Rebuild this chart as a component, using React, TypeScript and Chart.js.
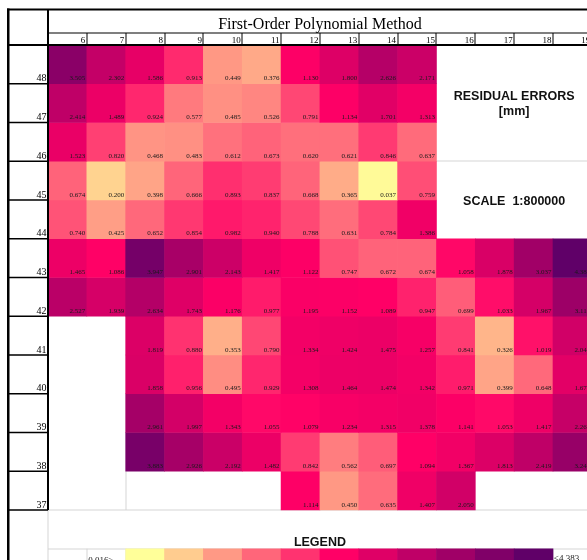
import React, { useEffect, useRef } from 'react';
import { Chart, registerables } from 'chart.js';

Chart.register(...registerables);

// ---------- data ----------
const columns = [6, 7, 8, 9, 10, 11, 12, 13, 14, 15, 16, 17, 18, 19];
const rowLabels = [48, 47, 46, 45, 44, 43, 42, 41, 40, 39, 38, 37];

const row48 = [3.505, 2.302, 1.586, 0.913, 0.449, 0.376, 1.130, 1.800, 2.626, 2.171, null, null, null, null];
const row47 = [2.414, 1.489, 0.924, 0.577, 0.485, 0.526, 0.791, 1.134, 1.701, 1.313, null, null, null, null];
const row46 = [1.523, 0.820, 0.468, 0.483, 0.612, 0.673, 0.620, 0.621, 0.846, 0.637, null, null, null, null];
const row45 = [0.674, 0.200, 0.398, 0.666, 0.893, 0.837, 0.668, 0.365, 0.037, 0.759, null, null, null, null];
const row44 = [0.740, 0.425, 0.652, 0.854, 0.982, 0.940, 0.788, 0.631, 0.784, 1.386, null, null, null, null];
const row43 = [1.465, 1.086, 3.947, 2.901, 2.143, 1.417, 1.122, 0.747, 0.672, 0.674, 1.058, 1.878, 3.037, 4.383];
const row42 = [2.527, 1.939, 2.634, 1.743, 1.176, 0.977, 1.195, 1.152, 1.089, 0.947, 0.699, 1.033, 1.967, 3.110];
const row41 = [null, null, 1.819, 0.880, 0.353, 0.790, 1.334, 1.424, 1.475, 1.257, 0.841, 0.326, 1.019, 2.046];
const row40 = [null, null, 1.858, 0.956, 0.495, 0.929, 1.308, 1.464, 1.474, 1.342, 0.971, 0.399, 0.648, 1.670];
const row39 = [null, null, 2.961, 1.997, 1.343, 1.055, 1.079, 1.234, 1.315, 1.378, 1.141, 1.053, 1.417, 2.262];
const row38 = [null, null, 3.883, 2.926, 2.192, 1.482, 0.842, 0.562, 0.697, 1.094, 1.367, 1.813, 2.419, 3.246];
const row37 = [null, null, null, null, null, null, 1.114, 0.450, 0.635, 1.407, 2.050, null, null, null];

const rowValues = [row48, row47, row46, row45, row44, row43, row42, row41, row40, row39, row38, row37];

const legendColumns = [8, 9, 10, 11, 12, 13, 14, 15, 16, 17, 18];
const legendSteps = [0, 0.1, 0.2, 0.3, 0.4, 0.5, 0.6, 0.7, 0.8, 0.9, 1.0];
const legendMin = 0.016;
const legendMax = 4.383;
const legendMinLabel = '0.016≥';
const legendMaxLabel = '≤4.383';

const titleText = 'First-Order Polynomial Method';
const residualLines = ['RESIDUAL ERRORS', '[mm]'];
const scaleText = 'SCALE  1:800000';
const legendTitle = 'LEGEND';

// ---------- colour scale (3-colour, midpoint = median) ----------
const lowColor = [255, 255, 153];
const midColor = [255, 0, 102];
const highColor = [96, 0, 104];

const allValues: number[] = [];
rowValues.forEach((r) => r.forEach((v) => { if (v != null) allValues.push(v as number); }));
const sortedVals = [...allValues].sort((a, b) => a - b);
const midValue = sortedVals.length % 2
  ? sortedVals[(sortedVals.length - 1) / 2]
  : (sortedVals[sortedVals.length / 2 - 1] + sortedVals[sortedVals.length / 2]) / 2;

function mix(a: number[], b: number[], t: number) {
  const c = a.map((av, i) => Math.round(av + (b[i] - av) * t));
  return `rgb(${c[0]},${c[1]},${c[2]})`;
}
function colorAt(t: number) {
  const tt = Math.max(0, Math.min(1, t));
  return tt <= 0.5 ? mix(lowColor, midColor, tt / 0.5) : mix(midColor, highColor, (tt - 0.5) / 0.5);
}
function colorForValue(v: number) {
  if (v <= midValue) return colorAt(((v - legendMin) / (midValue - legendMin)) * 0.5);
  return colorAt(0.5 + ((v - midValue) / (legendMax - midValue)) * 0.5);
}

// ---------- layout constants ----------
const W = 587;
const H = 560;
const COL_W = 38.846;
const ROW_H = 38.75;
const LEFT = 48;
const TOP = 45;
const LEGEND_ROW = 35;
const SERIF = '"Liberation Serif", "Times New Roman", serif';
const SANS = '"Liberation Sans", Arial, sans-serif';

const sheetPlugin = {
  id: 'sheetPlugin',
  beforeDatasetsDraw(chart: any) {
    const { ctx } = chart;
    const x = chart.scales.x;
    const y = chart.scales.y;
    ctx.save();
    ctx.fillStyle = '#d6d6d6';
    const h = (x0: number, x1: number, yy: number) => ctx.fillRect(x0, Math.round(yy) - 0.5, x1 - x0, 1);
    const v = (xx: number, y0: number, y1: number) => ctx.fillRect(Math.round(xx) - 0.5, y0, 1, y1 - y0);
    h(LEFT, W, y.getPixelForValue(36.5));
    h(LEFT, W, y.getPixelForValue(35.5));
    v(x.getPixelForValue(7.5), y.getPixelForValue(37.5), y.getPixelForValue(36.5));
    v(LEFT, y.getPixelForValue(36.5), H);
    v(x.getPixelForValue(6.5), y.getPixelForValue(35.5), H);
    v(x.getPixelForValue(7.5), y.getPixelForValue(35.5), H);
    v(x.getPixelForValue(18.5), y.getPixelForValue(35.5), H);
    h(x.getPixelForValue(15.5), W, y.getPixelForValue(45.5));
    ctx.restore();
  },
  afterDatasetsDraw(chart: any) {
    const { ctx } = chart;
    const x = chart.scales.x;
    const y = chart.scales.y;
    ctx.save();

    // cell values
    ctx.fillStyle = '#1a1a1a';
    ctx.font = `7px ${SERIF}`;
    ctx.textAlign = 'right';
    ctx.textBaseline = 'alphabetic';
    rowLabels.forEach((r, ri) => {
      columns.forEach((c, ci) => {
        const val = rowValues[ri][ci];
        if (val == null) return;
        ctx.fillText((val as number).toFixed(3), x.getPixelForValue(c + 0.5) - 1.5, y.getPixelForValue(r - 0.5) - 3.5);
      });
    });

    // black frame lines
    ctx.fillStyle = '#000';
    const bottom37 = y.getPixelForValue(36.5);
    ctx.fillRect(7, 8.5, W - 7, 2);
    ctx.fillRect(7, 8.5, 2.5, H - 8.5);
    ctx.fillRect(LEFT - 1, 9, 2, bottom37 - 9);
    ctx.fillRect(7, TOP - 1, W - 7, 2);
    ctx.fillRect(LEFT, 32.5, W - LEFT, 1);
    columns.forEach((c) => {
      const xx = Math.round(x.getPixelForValue(c + 0.5));
      ctx.fillRect(xx - 0.5, 33, 1, TOP - 33);
    });
    rowLabels.forEach((r) => {
      const yy = y.getPixelForValue(r - 0.5);
      ctx.fillRect(8, yy - 0.75, LEFT - 8, 1.5);
    });

    // title
    ctx.fillStyle = '#000';
    ctx.textAlign = 'center';
    ctx.font = `16px ${SERIF}`;
    const cx = (x.getPixelForValue(5.5) + x.getPixelForValue(19.5)) / 2;
    ctx.fillText(titleText, cx, 29);

    // column labels
    ctx.font = `9px ${SERIF}`;
    ctx.textAlign = 'right';
    columns.forEach((c) => {
      ctx.fillText(String(c), x.getPixelForValue(c + 0.5) - 1.5, 42.5);
    });

    // row labels
    ctx.font = `10px ${SERIF}`;
    rowLabels.forEach((r) => {
      ctx.fillText(String(r), LEFT - 1.5, y.getPixelForValue(r - 0.5) - 2.5);
    });

    // side notes
    ctx.font = `bold 12.5px ${SANS}`;
    ctx.textAlign = 'center';
    ctx.fillStyle = '#111';
    const sx = (x.getPixelForValue(15.5) + x.getPixelForValue(19.5)) / 2;
    const resCenter = (y.getPixelForValue(48.5) + y.getPixelForValue(45.5)) / 2;
    ctx.fillText(residualLines[0], sx, resCenter - 3);
    ctx.fillText(residualLines[1], sx, resCenter + 12);
    const scCenter = (y.getPixelForValue(45.5) + y.getPixelForValue(43.5)) / 2;
    ctx.fillText(scaleText, sx, scCenter + 5);
    ctx.fillText(legendTitle, cx, y.getPixelForValue(35.5) - 2.5);

    // legend labels
    ctx.font = `9px ${SERIF}`;
    ctx.textAlign = 'left';
    ctx.fillStyle = '#1a1a1a';
    const legTop = y.getPixelForValue(35.5);
    ctx.fillText(legendMinLabel, x.getPixelForValue(6.5) + 1.5, legTop + 14);
    ctx.fillText(legendMaxLabel, x.getPixelForValue(18.5) + 1, legTop + 12);

    ctx.restore();
  },
};

export default function App() {
  const canvasRef = useRef<HTMLCanvasElement | null>(null);

  useEffect(() => {
    const canvas = canvasRef.current;
    if (!canvas) return;

    const datasets: any[] = rowLabels.map((r, ri) => {
      const pts: any[] = [];
      const colors: string[] = [];
      columns.forEach((c, ci) => {
        const v = rowValues[ri][ci];
        if (v != null) {
          pts.push({ x: c, y: [r - 0.5, r + 0.5] });
          colors.push(colorForValue(v as number));
        }
      });
      return {
        label: String(r),
        data: pts,
        backgroundColor: colors,
        borderWidth: 0,
        grouped: false,
        barPercentage: 1,
        categoryPercentage: 1,
      };
    });
    datasets.push({
      label: 'legend',
      data: legendColumns.map((c) => ({ x: c, y: [LEGEND_ROW - 0.5, LEGEND_ROW + 0.5] })),
      backgroundColor: legendSteps.map((t) => colorAt(t)),
      borderWidth: 0,
      grouped: false,
      barPercentage: 1,
      categoryPercentage: 1,
    });

    const xMax = 5.5 + (W - LEFT) / COL_W;
    const yMin = 48.5 - (H - TOP) / ROW_H;

    const chart = new Chart(canvas, {
      type: 'bar',
      data: { datasets },
      options: {
        animation: false,
        responsive: false,
        devicePixelRatio: 1,
        events: [],
        layout: { autoPadding: false, padding: { left: LEFT, top: TOP, right: 0, bottom: 0 } },
        plugins: { legend: { display: false }, tooltip: { enabled: false }, title: { display: false } },
        scales: {
          x: {
            type: 'linear',
            display: false,
            offset: false,
            min: 5.5,
            max: xMax,
            grid: { display: false, offset: false },
            afterBuildTicks: (scale: any) => {
              scale.ticks = columns.map((c) => ({ value: c }));
            },
          },
          y: {
            type: 'linear',
            display: false,
            offset: false,
            min: yMin,
            max: 48.5,
            grid: { display: false },
          },
        },
      },
      plugins: [sheetPlugin],
    } as any);

    return () => chart.destroy();
  }, []);

  return (
    <canvas
      ref={canvasRef}
      width={W}
      height={H}
      style={{ position: 'fixed', left: 0, top: 0, width: W, height: H, display: 'block' }}
    />
  );
}
